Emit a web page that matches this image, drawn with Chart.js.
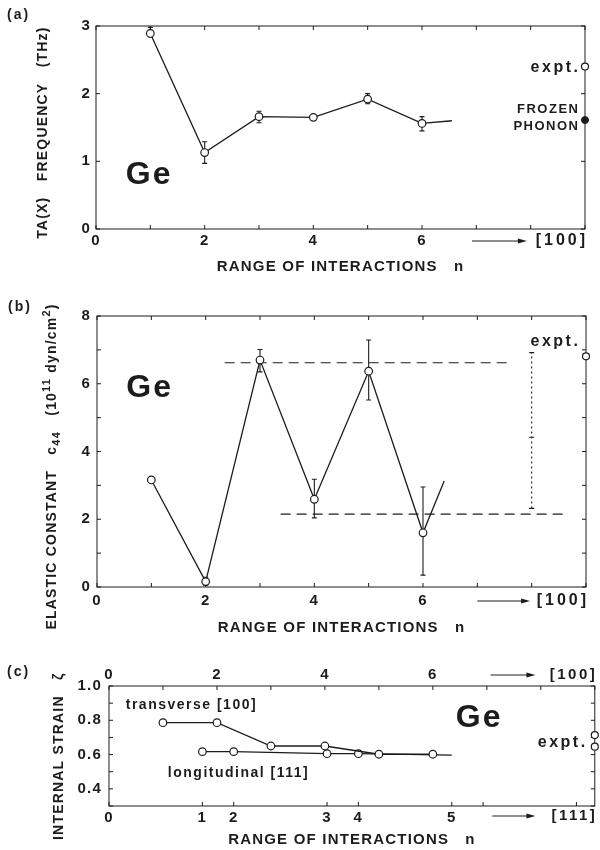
<!DOCTYPE html>
<html>
<head>
<meta charset="utf-8">
<script src="https://cdn.jsdelivr.net/npm/chart.js@4.4.1/dist/chart.umd.min.js"></script>
<style>
html, body { margin: 0; padding: 0; background: #fff; overflow: hidden; }
#page { position: relative; width: 600px; height: 850px; }
canvas { position: absolute; left: 0; }
</style>
</head>
<body>
<div id="page">
  <canvas id="chtA" width="600" height="285" style="top:0"></canvas>
  <canvas id="chtB" width="600" height="360" style="top:285px"></canvas>
  <canvas id="chtC" width="600" height="205" style="top:645px"></canvas>
</div>
<script>
'use strict';

// (a) TA(X) frequency vs range of interactions n
const rangeA = [1, 2, 3, 4, 5, 6, 6.55];
const freqA = [2.89, 1.13, 1.66, 1.65, 1.92, 1.56, 1.60];
const freqLowA = [2.84, 0.97, 1.57, null, 1.85, 1.45];
const freqHighA = [2.98, 1.29, 1.74, null, 2.00, 1.66];
const exptFreqA = [2.40];
const frozenFreqA = [1.61];

// (b) elastic constant c44
const rangeB = [1, 2, 3, 4, 5, 6, 6.39];
const c44B = [3.16, 0.16, 6.70, 2.59, 6.37, 1.60, 3.13];
const c44LowB = [null, 0.05, 6.35, 2.04, 5.52, 0.35];
const c44HighB = [null, 0.29, 7.01, 3.18, 7.29, 2.95];
const bandUpperX = [2.35, 7.57];
const bandUpperY = [6.62, 6.62];
const bandLowerX = [3.38, 8.62];
const bandLowerY = [2.15, 2.15];
const exptBarX = [8.0];
const exptBarLow = [2.32];
const exptBarMid = [4.42];
const exptBarHigh = [6.92];
const exptC44B = [6.81];

// (c) internal strain
const transRangeC = [1, 2, 3, 4, 5, 6];
const transC = [0.786, 0.786, 0.65, 0.65, 0.602, 0.602];
const longRangeC = [1.73, 2.31, 4.04, 4.62, 6.35];
const longC = [0.617, 0.617, 0.605, 0.605, 0.597];
const exptStrainC = [0.714, 0.646];
const shell111Ticks = [0, 1.73, 2.31, 4.04, 4.62, 6.35, 6.93, 8.66];
const shell111Labels = ['0', '1', '2', '3', '4', '5', '', ''];

// experimental values sit at the [100] end of the axis
const exptAt = [9];

const INK = '#1c1c1c';
const FONT = '"Liberation Sans", Arial, sans-serif';

function pts(xs, ys) {
    return ys.map((y, i) => ({ x: xs[i], y: y }));
}

function figurePlugin(spec) {
    return {
        id: 'figure',
        beforeDraw(chart) {
            chart.ctx.letterSpacing = '1.2px';
        },
        beforeDatasetsDraw(chart) {
            var ctx = chart.ctx, area = chart.chartArea;
            var x = chart.scales.x, y = chart.scales.y;
            var top = chart.scales.xTop || x;
            var len = 4;
            ctx.save();
            ctx.letterSpacing = '0px';
            ctx.strokeStyle = INK;
            ctx.lineWidth = 1;
            ctx.strokeRect(area.left, area.top, area.right - area.left, area.bottom - area.top);

            ctx.beginPath();
            x.ticks.forEach((t) => {
                var px = x.getPixelForValue(t.value);
                ctx.moveTo(px, area.bottom);
                ctx.lineTo(px, area.bottom - len);
            });
            top.ticks.forEach((t) => {
                var px = top.getPixelForValue(t.value);
                ctx.moveTo(px, area.top);
                ctx.lineTo(px, area.top + len);
            });
            y.ticks.forEach((t) => {
                var py = y.getPixelForValue(t.value);
                ctx.moveTo(area.left, py);
                ctx.lineTo(area.left + len, py);
                ctx.moveTo(area.right, py);
                ctx.lineTo(area.right - len, py);
            });
            ctx.stroke();

            var cap = 2.5;
            (spec.errorBars || []).forEach((bar) => {
                ctx.setLineDash(bar.dash || []);
                ctx.lineWidth = bar.width || 1.1;
                bar.x.forEach((xv, i) => {
                    if (bar.low[i] == null) return;
                    var px = x.getPixelForValue(xv);
                    var p1 = y.getPixelForValue(bar.low[i]);
                    var p2 = y.getPixelForValue(bar.high[i]);
                    ctx.beginPath();
                    ctx.moveTo(px, p1);
                    ctx.lineTo(px, p2);
                    ctx.stroke();
                    ctx.setLineDash([]);
                    ctx.beginPath();
                    ctx.moveTo(px - cap, p1); ctx.lineTo(px + cap, p1);
                    ctx.moveTo(px - cap, p2); ctx.lineTo(px + cap, p2);
                    if (bar.mid) {
                        var pm = y.getPixelForValue(bar.mid[i]);
                        ctx.moveTo(px - cap, pm); ctx.lineTo(px + cap, pm);
                    }
                    ctx.stroke();
                    ctx.setLineDash(bar.dash || []);
                });
            });
            ctx.restore();
        },
        afterDraw(chart) {
            var ctx = chart.ctx, area = chart.chartArea;
            var x = chart.scales.x, y = chart.scales.y;
            ctx.save();
            ctx.fillStyle = INK;
            ctx.strokeStyle = INK;
            ctx.textBaseline = 'middle';

            (spec.notes || []).forEach((n) => {
                var sp = n.spacing || 0;
                ctx.font = n.font + ' ' + FONT;
                ctx.letterSpacing = sp + 'px';
                ctx.textAlign = n.align || 'left';
                var px = x.getPixelForValue(n.x);
                var py;
                if (n.below != null) py = area.bottom + n.below;
                else if (n.above != null) py = area.top - n.above;
                else py = y.getPixelForValue(n.y);
                if (ctx.textAlign === 'right') px += sp;
                if (ctx.textAlign === 'center') px += sp / 2;
                ctx.fillText(n.text, px, py);
            });

            ctx.lineWidth = 1;
            (spec.arrows || []).forEach((a) => {
                var x1 = x.getPixelForValue(a.from), x2 = x.getPixelForValue(a.to);
                var py = a.below != null ? area.bottom + a.below : area.top - a.above;
                ctx.beginPath();
                ctx.moveTo(x1, py);
                ctx.lineTo(x2 - 6, py);
                ctx.stroke();
                ctx.beginPath();
                ctx.moveTo(x2, py);
                ctx.lineTo(x2 - 9, py - 2.5);
                ctx.lineTo(x2 - 9, py + 2.5);
                ctx.closePath();
                ctx.fill();
            });

            // vertical axis title with sub/superscripts
            if (spec.richTitle) {
                var rt = spec.richTitle;
                var fontOf = (p) => 'bold ' + (p.shift ? 11 : 14) + 'px ' + FONT;
                ctx.save();
                ctx.letterSpacing = '1.2px';
                ctx.textAlign = 'left';
                ctx.textBaseline = 'alphabetic';
                var widths = rt.parts.map((p) => { ctx.font = fontOf(p); return ctx.measureText(p.text).width; });
                var total = widths.reduce((a, b) => a + b, 0);
                ctx.translate(rt.baseline, (area.top + area.bottom) / 2 + rt.offset);
                ctx.rotate(-Math.PI / 2);
                var pos = -total / 2;
                rt.parts.forEach((p, i) => {
                    ctx.font = fontOf(p);
                    ctx.fillText(p.text, pos, p.shift || 0);
                    pos += widths[i];
                });
                ctx.restore();
            }

            if (spec.panel) {
                ctx.font = 'bold 14px ' + FONT;
                ctx.letterSpacing = '2px';
                ctx.textAlign = 'left';
                ctx.fillText(spec.panel.text, spec.panel.left, spec.panel.top);
            }
            ctx.restore();
        }
    };
}

function xAxis(height, labelPad, title, titlePad, extra) {
    return Object.assign({
        type: 'linear',
        min: 0,
        max: 9,
        grid: { display: false, drawTicks: false },
        border: { display: false },
        ticks: {
            stepSize: 1,
            autoSkip: false,
            maxRotation: 0,
            padding: labelPad,
            color: INK,
            font: { family: FONT, size: 15, weight: 'bold' },
            callback: (v) => (v % 2 === 0 && v <= 6) ? String(v) : ''
        },
        title: {
            display: !!title,
            text: title || '',
            color: INK,
            font: { family: FONT, size: 15, weight: 'bold' },
            padding: { top: 0, bottom: titlePad }
        },
        afterFit(scale) { scale.height = height; }
    }, extra || {});
}

function yAxis(width, min, max, step, labelPad, title, titlePad, labelFn) {
    return {
        type: 'linear',
        min: min,
        max: max,
        grid: { display: false, drawTicks: false },
        border: { display: false },
        ticks: {
            stepSize: step,
            autoSkip: false,
            padding: labelPad,
            color: INK,
            font: { family: FONT, size: 15, weight: 'bold' },
            callback: labelFn
        },
        title: {
            display: !!title,
            text: title || '',
            color: INK,
            font: { family: FONT, size: 14, weight: 'bold' },
            padding: { top: titlePad, bottom: 0 }
        },
        afterFit(scale) { scale.width = width; }
    };
}

const seriesStyle = {
    showLine: true,
    borderColor: INK,
    borderWidth: 1.3,
    pointBackgroundColor: '#fff',
    pointBorderColor: INK,
    pointBorderWidth: 1.2
};

function baseOptions(padding, scales) {
    return {
        responsive: false,
        animation: false,
        layout: { padding: padding },
        plugins: { legend: { display: false }, tooltip: { enabled: false } },
        scales: scales
    };
}

const xTitle = 'RANGE OF INTERACTIONS   n';

// ---------- (a) ----------
new Chart(document.getElementById('chtA'), {
    type: 'scatter',
    data: {
        datasets: [
            Object.assign({ data: pts(rangeA, freqA), pointRadius: (c) => c.dataIndex < 6 ? 3.8 : 0 }, seriesStyle),
            { data: pts(exptAt, exptFreqA), pointRadius: 3.5, pointBackgroundColor: '#fff', pointBorderColor: INK, pointBorderWidth: 1.2, clip: false },
            { data: pts(exptAt, frozenFreqA), pointRadius: 3.5, pointBackgroundColor: INK, pointBorderColor: INK, clip: false }
        ]
    },
    options: baseOptions({ top: 26, right: 15, left: 0, bottom: 0 }, {
        x: xAxis(56, 3, xTitle, 9),
        y: yAxis(96, 0, 3, 1, 5, 'TA(X)   FREQUENCY   (THz)  ', 35, (v) => String(v))
    }),
    plugins: [figurePlugin({
        errorBars: [{ x: rangeA, low: freqLowA, high: freqHighA }],
        notes: [
            { text: 'Ge', x: 0.96, y: 0.80, font: 'bold 32px', align: 'center', spacing: 2 },
            { text: 'expt.', x: 8.87, y: 2.39, font: 'bold 16px', align: 'right', spacing: 2.5 },
            { text: 'FROZEN', x: 8.87, y: 1.76, font: 'bold 13px', align: 'right', spacing: 1.5 },
            { text: 'PHONON', x: 8.87, y: 1.51, font: 'bold 13px', align: 'right', spacing: 1.5 },
            { text: '[100]', x: 9, below: 12, font: 'bold 16px', align: 'right', spacing: 3 }
        ],
        arrows: [{ from: 6.92, to: 7.93, below: 12 }],
        panel: { text: '(a)', left: 7, top: 15 }
    })]
});

// ---------- (b) ----------
new Chart(document.getElementById('chtB'), {
    type: 'scatter',
    data: {
        datasets: [
            Object.assign({ data: pts(rangeB, c44B), pointRadius: (c) => c.dataIndex < 6 ? 3.8 : 0 }, seriesStyle),
            { data: pts(bandUpperX, bandUpperY), showLine: true, borderColor: INK, borderWidth: 1.1, borderDash: [10, 6], pointRadius: 0 },
            { data: pts(bandLowerX, bandLowerY), showLine: true, borderColor: INK, borderWidth: 1.1, borderDash: [10, 6], pointRadius: 0 },
            { data: pts(exptAt, exptC44B), pointRadius: 3.5, pointBackgroundColor: '#fff', pointBorderColor: INK, pointBorderWidth: 1.2, clip: false }
        ]
    },
    options: baseOptions({ top: 31, right: 14, left: 0, bottom: 0 }, {
        x: xAxis(58, 5, xTitle, 8),
        y: yAxis(97, 0, 8, 1, 6, '', 0, (v) => v % 2 === 0 ? String(v) : '')
    }),
    plugins: [figurePlugin({
        errorBars: [
            { x: rangeB, low: c44LowB, high: c44HighB },
            { x: exptBarX, low: exptBarLow, high: exptBarHigh, mid: exptBarMid, dash: [2, 3] }
        ],
        notes: [
            { text: 'Ge', x: 0.95, y: 5.87, font: 'bold 32px', align: 'center', spacing: 2 },
            { text: 'expt.', x: 8.85, y: 7.23, font: 'bold 16px', align: 'right', spacing: 2.5 },
            { text: '[100]', x: 9, below: 14, font: 'bold 16px', align: 'right', spacing: 3 }
        ],
        arrows: [{ from: 7.0, to: 7.97, below: 14 }],
        richTitle: {
            baseline: 56,
            offset: 15,
            parts: [
                { text: 'ELASTIC CONSTANT   c' },
                { text: '44', shift: 4 },
                { text: '   (10' },
                { text: '11', shift: -6 },
                { text: ' dyn/cm' },
                { text: '2', shift: -6 },
                { text: ')' }
            ]
        },
        panel: { text: '(b)', left: 8, top: 22 }
    })]
});

// ---------- (c) ----------
new Chart(document.getElementById('chtC'), {
    type: 'scatter',
    data: {
        datasets: [
            Object.assign({ data: pts(transRangeC, transC), pointRadius: 3.8 }, seriesStyle),
            Object.assign({ data: pts(longRangeC, longC), pointRadius: (c) => c.dataIndex < 4 ? 3.8 : 0 }, seriesStyle),
            { data: pts([9, 9], exptStrainC), pointRadius: 3.5, pointBackgroundColor: '#fff', pointBorderColor: INK, pointBorderWidth: 1.2, clip: false }
        ]
    },
    options: baseOptions({ top: 0, right: 2, left: 0, bottom: 0 }, {
        x: xAxis(44, 3, xTitle, 1, {
            afterBuildTicks(scale) {
                scale.ticks = shell111Ticks.map((v) => ({ value: v }));
            },
            ticks: {
                autoSkip: false,
                maxRotation: 0,
                padding: 3,
                color: INK,
                font: { family: FONT, size: 15, weight: 'bold' },
                callback: (v, i) => shell111Labels[i]
            }
        }),
        xTop: xAxis(41, 2, '', 0, { position: 'top' }),
        y: yAxis(109, 0.3, 1.0, 0.1, 7, 'INTERNAL STRAIN   ζ    ', 51,
            (v) => Math.round(v * 10) % 2 === 0 && v > 0.35 ? v.toFixed(1) : '')
    }),
    plugins: [figurePlugin({
        notes: [
            { text: 'Ge', x: 6.84, y: 0.813, font: 'bold 32px', align: 'center', spacing: 2 },
            { text: 'expt.', x: 8.82, y: 0.669, font: 'bold 16px', align: 'right', spacing: 2.5 },
            { text: 'transverse [100]', x: 0.31, y: 0.889, font: 'bold 14px', align: 'left', spacing: 1.5 },
            { text: 'longitudinal [111]', x: 1.09, y: 0.492, font: 'bold 14px', align: 'left', spacing: 1.5 },
            { text: '[100]', x: 9, above: 11, font: 'bold 15px', align: 'right', spacing: 2.5 },
            { text: '[111]', x: 9, below: 10, font: 'bold 15px', align: 'right', spacing: 2.5 }
        ],
        arrows: [
            { from: 7.07, to: 7.9, above: 11 },
            { from: 7.1, to: 7.9, below: 10 }
        ],
        panel: { text: '(c)', left: 7, top: 27 }
    })]
});
</script>
</body>
</html>
